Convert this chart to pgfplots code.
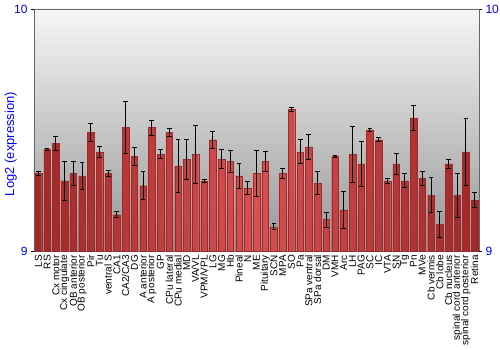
\documentclass[border=0pt]{standalone}
\usepackage{fontspec}
\setmainfont{Liberation Sans}
\usepackage{pgfplots}
\usepackage{pgfplotstable}
\pgfplotsset{compat=1.18}
\definecolor{barmid}{RGB}{216,80,80}
\definecolor{baredge}{RGB}{160,40,40}
\definecolor{bgtop}{RGB}{246,246,246}
\definecolor{bgbot}{RGB}{150,150,150}
\pgfplotstableread{
x y err
0 9.320 0.009
1 9.420 0.004
2 9.445 0.029
3 9.290 0.082
4 9.320 0.049
5 9.310 0.054
6 9.490 0.039
7 9.410 0.023
8 9.320 0.014
9 9.150 0.013
10 9.510 0.107
11 9.390 0.036
12 9.270 0.057
13 9.510 0.031
14 9.400 0.019
15 9.490 0.017
16 9.350 0.110
17 9.380 0.083
18 9.400 0.120
19 9.290 0.007
20 9.460 0.036
21 9.380 0.039
22 9.370 0.045
23 9.310 0.050
24 9.260 0.026
25 9.320 0.096
26 9.370 0.043
27 9.100 0.012
28 9.320 0.021
29 9.585 0.010
30 9.410 0.050
31 9.430 0.053
32 9.280 0.048
33 9.130 0.031
34 9.390 0.003
35 9.170 0.078
36 9.400 0.116
37 9.360 0.094
38 9.500 0.008
39 9.460 0.008
40 9.290 0.010
41 9.360 0.043
42 9.290 0.029
43 9.550 0.052
44 9.300 0.028
45 9.230 0.072
46 9.110 0.053
47 9.360 0.019
48 9.230 0.090
49 9.410 0.138
50 9.210 0.030
}\datatable
\begin{document}
\begin{tikzpicture}
\path[use as bounding box] (-34bp,-99bp) rectangle (466bp,251bp);
\begin{axis}[
  at={(0,0)}, anchor=south west,
  scale only axis, width=445bp, height=242bp,
  xmin=-0.5, xmax=50.5, ymin=9, ymax=10,
  axis background/.style={shade, top color=bgtop, bottom color=bgbot},
  axis line style={draw=gray!80!black, line width=0.8bp},
  xtick=data,
  xticklabels={LS,RS,Cx motor,Cx cingulate,OB anterior,OB posterior,Pir,Tu,ventral S,CA1,CA2/CA3,DG,A anterior,A posterior,GP,CPu lateral,CPu medial,MD,VA/VL,VPM/VPL,LG,MG,Hb,Pineal,N,ME,Pituitary,SCN,MPA,SO,Pa,SPa ventral,SPa dorsal,DM,VMH,Arc,LH,PAG,SC,IC,VTA,SN,Tg,Pn,MVe,Cb vermis,Cb lobe,Cb nucleus,spinal cord anterior,spinal cord posterior,Retina},
  xticklabel style={rotate=90, anchor=east, font=\fontsize{10bp}{10bp}\selectfont, inner sep=1bp},
  xtick style={draw=none},
  ytick={9,10},
  ytick pos=left,
  yticklabel style={text=blue, font=\fontsize{12bp}{12bp}\selectfont},
  /pgf/number format/assume math mode=true,
  ytick style={black, line width=0.8bp},
  major tick length=3bp,
  tick align=outside,
  ylabel={Log2 (expression)},
  every axis y label/.style={at={(ticklabel cs:0.5)}, rotate=90, anchor=center, xshift=-14bp, text=blue, font=\fontsize{13bp}{13bp}\selectfont},
]
\addplot[ybar, bar width=6.6bp, draw=baredge, line width=0.3bp,
  left color=baredge, right color=baredge, middle color=barmid,
  error bars/.cd, y dir=both, y explicit,
  error bar style={black, line width=0.9bp},
  error mark options={rotate=90, black, mark size=2.4bp, line width=0.9bp}]
  table[x=x, y=y, y error=err]{\datatable};
\end{axis}
\begin{axis}[
  at={(0,0)}, anchor=south west,
  scale only axis, width=445bp, height=242bp,
  xmin=-0.5, xmax=50.5, ymin=9, ymax=10,
  hide x axis,
  axis y line*=right,
  axis line style={draw=gray!80!black, line width=0.8bp},
  ytick={9,10},
  yticklabel style={text=blue, font=\fontsize{12bp}{12bp}\selectfont},
  /pgf/number format/assume math mode=true,
  ytick style={black, line width=0.8bp},
  major tick length=3bp,
  tick align=outside,
]
\end{axis}
\end{tikzpicture}
\end{document}
